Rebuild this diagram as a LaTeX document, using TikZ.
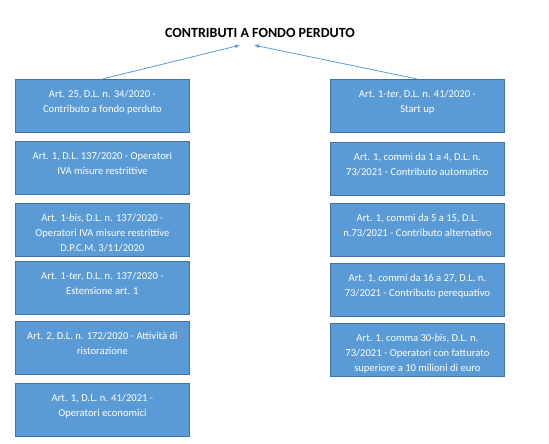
\documentclass[tikz,border=0pt]{standalone}
\usepackage{fontspec}
\setmainfont{Carlito}
\usepackage{tikz}
\usetikzlibrary{arrows.meta}

\newcommand{\boxtext}[1]{\parbox[c][53pt][t]{174pt}{\centering\fontsize{10.6}{15}\selectfont\rule{0pt}{18pt}#1}}

\begin{document}
\begin{tikzpicture}[x=1pt,y=1pt,
    normbox/.style={draw=normborder, line width=0.8pt, fill=normblue, text=white, inner sep=0pt, anchor=north west},
    link/.style={draw=normblue, line width=0.8pt, -{Latex[length=5pt,width=4pt]}}]
    % colori
    \definecolor{normblue}{RGB}{91, 155, 213}
    \definecolor{normborder}{RGB}{65, 113, 156}

    \useasboundingbox (0,0) rectangle (549,444);

    % titolo
    \node[font=\fontsize{14}{17}\selectfont\bfseries] (title) at (260,411) {CONTRIBUTI A FONDO PERDUTO};
    \coordinate (tl) at ([xshift=-20pt,yshift=-4pt]title.south);
    \coordinate (tr) at ([xshift=-6pt,yshift=-4pt]title.south);

    % colonna sinistra
    \node[normbox] (l1) at (15,365) {\boxtext{Art. 25, D.L. n. 34/2020 -\\Contributo a fondo perduto}};
    \node[normbox] (l2) at (15,303) {\boxtext{Art. 1, D.L. 137/2020 - Operatori\\IVA misure restrittive}};
    \node[normbox] (l3) at (15,241) {\boxtext{Art. 1-\textit{bis}, D.L. n. 137/2020 -\\Operatori IVA misure restrittive\\D.P.C.M. 3/11/2020}};
    \node[normbox] (l4) at (15,183) {\boxtext{Art. 1-\textit{ter}, D.L. n. 137/2020 -\\Estensione art. 1}};
    \node[normbox] (l5) at (15,123) {\boxtext{Art. 2, D.L. n. 172/2020 - Attività di\\ristorazione}};
    \node[normbox] (l6) at (15,61) {\boxtext{Art. 1, D.L. n. 41/2021 -\\Operatori economici}};

    % colonna destra
    \node[normbox] (r1) at (330,365) {\boxtext{Art. 1-\textit{ter}, D.L. n. 41/2020 -\\Start up}};
    \node[normbox] (r2) at (330,302) {\boxtext{Art. 1, commi da 1 a 4, D.L. n.\\73/2021 - Contributo automatico}};
    \node[normbox] (r3) at (330,241) {\boxtext{Art. 1, commi da 5 a 15, D.L.\\n.73/2021 - Contributo alternativo}};
    \node[normbox] (r4) at (330,181) {\boxtext{Art. 1, commi da 16 a 27, D.L. n.\\73/2021 - Contributo perequativo}};
    \node[normbox] (r5) at (330,121) {\boxtext{Art. 1, comma 30-\textit{bis}, D.L. n.\\73/2021 - Operatori con fatturato\\superiore a 10 milioni di euro}};

    % frecce
    \draw[link] (l1.north) -- (tl);
    \draw[link] (r1.north) -- (tr);
\end{tikzpicture}
\end{document}
